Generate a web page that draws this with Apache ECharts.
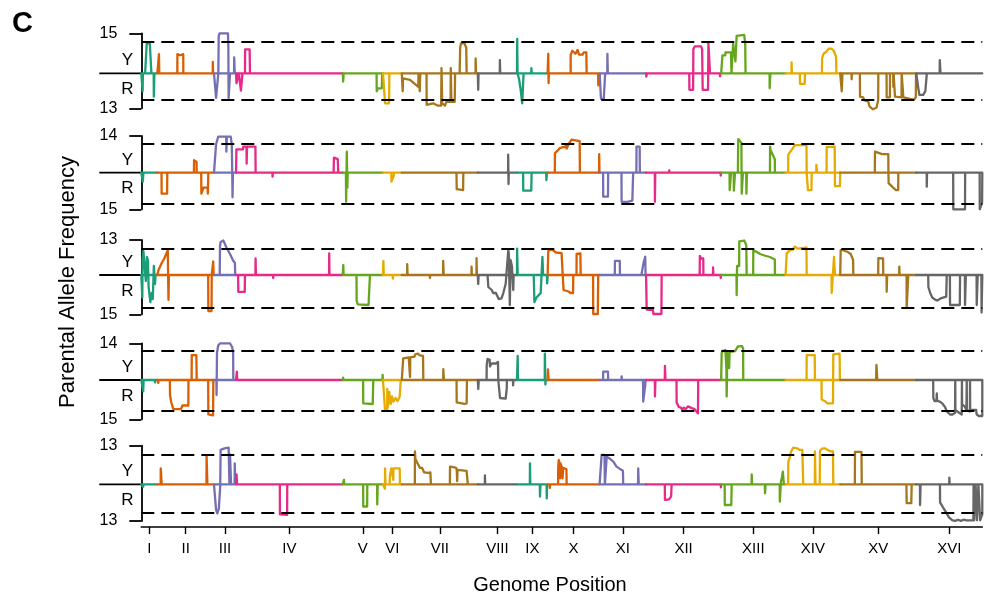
<!DOCTYPE html>
<html><head><meta charset="utf-8">
<script src="https://cdn.jsdelivr.net/npm/echarts@6/dist/echarts.min.js"></script>
<style>html,body{margin:0;padding:0;background:#fff}#c{width:989px;height:601px}</style>
</head><body><div id="c"></div>
<script>
// ---------- data ----------
const CHROMS = ['I','II','III','IV','V','VI','VII','VIII','IX','X','XI','XII','XIII','XIV','XV','XVI'];
const CHROM_LEN_KB = [230.2, 813.2, 316.6, 1531.9, 576.9, 270.2, 1090.9, 562.6, 439.9, 745.8, 666.8, 1078.2, 924.4, 784.3, 1091.3, 948.1];
const COLORS = ['#1B9E77','#D95F02','#7570B3','#E7298A','#66A61E','#E6AB02','#A6761D','#666666'];
const PANEL_TOP_LABELS = ['15','14','13','14','13'];
const PANEL_BOTTOM_LABELS = ['13','15','15','15','13'];
const Y_MAX = [1.333, 1.223, 1.167, 1.223, 1.287];
const Y_MIN = [-1.167, -1.22, -1.31, -1.31, -1.223];
const DASH_HI = [1.053, 0.947, 0.89, 0.967, 1.0];
const DASH_LO = [-0.89, -1.053, -1.09, -1.033, -0.947];
const Y_LABEL_POS = [0.42, -0.53];

// points per chromosome: flat [kb within chromosome, value, ...]
const panel1 = [
 [18,0, 19,-0.6, 22,-0.6, 23,0, 55,0, 78,1.0, 122,1.0, 145,0, 178,0, 180,-0.78, 186,-0.78, 188,0],
 [22,0, 23,0.64, 27,0.64, 28,0, 287,0, 288,0.64, 300,0.64, 305,0.58, 330,0.6, 372,0.64, 373,0, 795,0, 796,0.38, 800,0.38, 801,0],
 [25,0, 30,-0.82, 55,-0.82, 62,0, 68,1.25, 80,1.33, 200,1.33, 206,0.9, 210,-0.83, 226,-0.83, 230,0, 288,0, 290,0.53, 296,0.53, 298,0],
 [5,0, 6,-0.33, 30,-0.33, 40,0, 68,0, 70,-0.58, 88,-0.58, 92,0, 128,0, 130,0.8, 195,0.8, 200,0],
 [4,0, 5,-0.28, 12,-0.28, 13,0, 485,0, 487,-0.6, 500,-0.6, 502,-0.5, 560,-0.5, 565,0],
 [28,0, 30,-1.0, 88,-1.0, 92,0],
 [12,0, 13,-0.6, 16,-0.6, 17,-0.17, 118,-0.22, 237,-0.45, 240,0, 255,0, 258,-0.6, 263,-0.6, 265,0, 355,0, 357,-1.05, 450,-1.0, 520,-1.08, 565,-1.08, 570,0.17, 575,0.17, 580,-1.0, 620,-1.08, 640,-0.95, 700,-0.95, 703,0.17, 710,0.17, 712,-0.95, 760,-0.95, 765,0, 830,0, 838,0.85, 850,1.0, 900,1.0, 925,0.85, 931,0, 1058,0, 1060,0.5, 1064,0.5, 1066,0],
 [5,0, 6,-0.55, 10,-0.55, 11,0, 316,0, 317,0.44, 321,0.44, 322,0],
 [2,0, 3,1.15, 6,1.15, 8,0, 30,-0.2, 50,-0.5, 75,-1.0, 85,-0.5, 95,0, 205,0, 206,0.17, 210,0.17, 212,0],
 [8,0, 9,0.65, 12,0.65, 14,-0.33, 18,0, 330,0, 331,0.62, 350,0.62, 355,0.75, 380,0.72, 400,0.65, 430,0.78, 450,0.62, 500,0.62, 520,0.7, 555,0.7, 560,0, 725,0, 727,-0.4, 740,-0.4, 745,0],
 [18,0, 20,-0.85, 60,-0.85, 75,-0.9, 80,0, 110,0, 112,0.65, 116,0.65, 118,0],
 [3,0, 4,-0.11, 10,-0.11, 12,0, 620,0, 622,-0.55, 675,-0.55, 679,0.8, 700,0.9, 790,0.9, 805,0.8, 813,-0.55, 890,-0.55, 895,1.0, 915,1.0, 918,0, 1060,0, 1062,-0.1, 1066,0],
 [15,0, 18,0.6, 60,0.6, 62,0.7, 140,0.7, 148,0, 170,0, 172,1.0, 200,1.0, 205,0.4, 215,0.4, 222,1.25, 240,1.28, 330,1.28, 345,1.0, 350,0, 695,0, 696,-0.5, 705,-0.5, 706,0],
 [85,0, 86,0.36, 90,0.36, 91,0, 205,0, 207,-0.35, 275,-0.35, 279,0, 522,0, 524,0.5, 540,0.5, 545,0.65, 560,0.6, 575,0.7, 590,0.75, 620,0.82, 660,0.82, 690,0.75, 725,0.55, 730,0],
 [20,0, 22,-0.6, 30,-0.6, 32,0, 163,0, 164,-0.2, 167,0, 282,0, 284,-0.78, 330,-0.8, 345,-0.9, 403,-0.95, 420,-1.1, 470,-1.2, 520,-1.15, 545,-0.9, 547,0, 665,0, 667,-0.8, 713,-0.8, 715,0, 760,0, 762,-0.45, 766,0, 784,0, 786,-0.78, 880,-0.8, 882,0, 904,0, 906,-0.8, 1000,-0.85, 1060,-0.88, 1085,-0.8, 1088,0],
 [28,0, 30,-0.5, 45,-0.72, 100,-0.72, 130,-0.6, 150,-0.6, 152,0, 336,0, 338,0.44, 346,0.44, 348,0]
];
const panel2 = [
 [20,0, 22,-0.3, 28,-0.3, 30,0],
 [60,0, 62,-0.7, 140,-0.7, 143,0, 525,0, 527,0.42, 545,0.42, 548,0.36, 563,0.36, 565,0, 630,0, 632,-0.7, 660,-0.7, 662,-0.5, 720,-0.5, 725,-0.7, 730,-0.7, 732,0],
 [25,0, 30,0.95, 60,1.2, 175,1.2, 178,0.7, 182,0.7, 185,1.2, 240,1.2, 255,0.95, 262,0, 266,-0.82, 270,-0.82, 272,0],
 [3,0, 5,0.78, 100,0.78, 103,0.87, 150,0.87, 152,0.3, 158,0.87, 278,0.87, 281,0, 522,0, 524,-0.13, 528,0, 1400,0, 1405,0.5, 1460,0.45, 1467,0],
 [45,0, 48,-0.97, 55,-0.97, 58,0.7, 64,0.7, 66,-0.5, 70,0],
 [120,0, 122,-0.3, 150,-0.3, 155,-0.1, 158,0],
 [785,0, 788,-0.55, 880,-0.58, 883,0],
 [435,0, 436,0.6, 440,0.6, 441,-0.38, 444,-0.38, 445,0],
 [88,0, 90,-0.6, 205,-0.6, 210,0, 420,0, 422,-0.25, 428,-0.2, 430,0],
 [103,0, 105,0.65, 120,0.7, 150,0.75, 176,0.82, 200,0.78, 220,0.85, 250,0.85, 265,0.95, 272,0.8, 300,0.95, 320,1.0, 344,1.1, 370,1.05, 460,1.05, 463,0, 738,0, 740,0.62, 744,0],
 [50,0, 52,-0.8, 120,-0.8, 123,0, 314,0, 316,-0.97, 400,-0.97, 420,-0.93, 470,-0.93, 482,0, 528,0, 530,0.87, 575,0.87, 578,0],
 [126,0, 127,-0.97, 131,-0.97, 132,0, 332,0, 333,0.08, 336,0, 1070,0, 1072,-0.1, 1076,0],
 [120,0, 122,-0.58, 140,-0.58, 142,0, 180,0, 182,-0.6, 196,-0.6, 198,0, 240,0, 245,1.12, 260,1.12, 290,1.0, 295,-0.7, 310,-0.7, 312,0, 360,0, 362,-0.7, 368,-0.7, 370,0, 700,0, 702,0.87, 710,0.75, 770,0.45, 772,0],
 [37,0, 39,0.6, 60,0.65, 100,0.8, 135,0.92, 300,0.92, 303,0, 319,0, 321,-0.58, 372,-0.58, 375,0, 440,0, 442,0.26, 450,0.26, 452,0, 588,0, 590,0.85, 705,0.87, 709,-0.45, 780,-0.45, 784,-0.15],
 [497,0, 499,0.7, 520,0.65, 600,0.62, 690,0.62, 692,0, 695,-0.35, 760,-0.5, 800,-0.58, 832,-0.58, 834,0],
 [150,0, 151,-0.47, 154,-0.47, 155,0, 530,0, 532,-1.22, 700,-1.22, 702,0, 910,0, 912,-1.22, 940,-1.22, 945,-1.0]
];
const panel3 = [
 [10,0, 15,-0.75, 18,0.5, 30,0.8, 45,0.75, 55,0.8, 65,-0.2, 80,0.6, 95,0.5, 105,-0.4, 130,-0.9, 150,-0.6, 165,-0.8, 180,0.3, 197,-0.3, 205,0],
 [10,0, 14,0.15, 63,0.4, 100,0.55, 150,0.83, 158,0.83, 160,-0.83, 164,-0.83, 166,0, 730,0, 732,-1.2, 778,-1.2, 781,0, 800,0, 802,0.45, 806,0.45, 808,0],
 [82,0, 86,0.95, 95,1.1, 134,1.15, 150,1.1, 182,0.9, 230,0.7, 270,0.5, 300,0.4, 305,0],
 [30,0, 32,-0.56, 125,-0.56, 128,0, 278,0, 280,0.55, 284,0.55, 286,0, 532,0, 533,-0.1, 537,0, 1335,0, 1337,0.72, 1341,0],
 [5,0, 7,0.33, 10,0.33, 12,0, 197,0, 199,-0.85, 215,-0.98, 370,-1.0, 388,-0.95, 390,0],
 [5,0, 6,0.47, 10,0.47, 11,0, 140,0, 142,-0.12, 146,0],
 [77,0, 78,0.36, 82,0.36, 83,0, 403,0, 404,-0.1, 408,0, 593,0, 594,0.47, 600,0.47, 601,0, 1000,0, 1001,0.28, 1005,0.28, 1006,0, 1072,0, 1073,0.56, 1077,0.56, 1078,0],
 [5,0, 6,-0.3, 10,-0.3, 12,0, 140,0, 151,-0.4, 200,-0.5, 220,-0.6, 260,-0.6, 300,-0.8, 340,-0.78, 366,-0.6, 400,-0.3, 420,0.3, 438,0.83, 445,0.7, 460,-1.0, 470,0.5, 490,0.3, 509,-0.5, 515,0],
 [1,0, 2,0.88, 8,0.85, 10,0, 240,0, 250,-0.9, 260,-0.85, 280,-0.75, 340,-0.6, 360,-0.55, 365,0.6, 372,0.6, 375,0, 430,0, 432,-0.28, 436,-0.2, 440,0],
 [8,0, 10,0.8, 40,0.85, 80,0.82, 120,0.75, 200,0.73, 225,0.7, 228,-0.5, 300,-0.55, 330,-0.6, 340,-0.55, 365,-0.6, 368,0, 414,0, 416,0.7, 470,0.72, 474,0, 652,0, 654,-1.3, 720,-1.3, 726,0],
 [218,0, 220,0.47, 290,0.47, 292,0, 600,0, 630,0.4, 655,0.61, 660,0],
 [7,0, 9,-1.15, 100,-1.17, 105,-1.3, 220,-1.3, 224,0, 770,0, 772,0.64, 790,0.55, 800,0.6, 821,0.55, 823,0, 960,0, 962,0.25, 966,0, 1070,0, 1072,-0.1, 1076,0],
 [220,0, 222,-0.67, 226,-0.67, 228,0.3, 258,0.3, 260,1.12, 280,1.16, 330,1.15, 360,1.0, 366,0, 459,0, 461,0.82, 500,0.78, 560,0.7, 620,0.65, 700,0.6, 770,0.52, 772,0],
 [14,0, 16,0.72, 40,0.75, 60,0.82, 100,0.85, 135,0.95, 170,0.88, 250,0.9, 300,0.92, 303,0, 660,0, 662,-0.6, 690,-0.6, 695,0.6, 705,0.6, 709,0],
 [5,0, 7,0.83, 40,0.83, 69,0.8, 100,0.78, 150,0.7, 185,0.5, 188,0, 545,0, 547,0.56, 575,0.6, 615,0.55, 618,0, 665,0, 667,-0.56, 672,-0.56, 674,0, 846,0, 848,0.28, 852,0, 952,0, 954,-1.1, 975,-1.1, 977,0],
 [172,0, 174,-0.4, 200,-0.6, 230,-0.75, 270,-0.82, 300,-0.85, 350,-0.78, 430,-0.72, 438,0, 483,0, 485,-1.0, 625,-1.0, 629,0, 698,0, 700,-1.0, 710,-1.0, 712,0, 866,0, 868,-1.0, 880,-1.0, 882,0, 935,0, 938,-1.25, 945,-1.3, 948,-1.2]
];
const panel4 = [
 [25,0, 27,-0.38, 32,-0.38, 34,0, 195,0, 197,-0.08, 200,0],
 [12,0, 14,-0.1, 18,0, 180,0, 182,-0.5, 200,-0.75, 220,-0.8, 230,-0.97, 280,-0.97, 290,-1.0, 340,-0.97, 350,-0.95, 360,-0.85, 445,-0.85, 447,0, 492,0, 494,0.83, 560,0.83, 565,0, 730,0, 732,-1.15, 800,-1.18, 804,0],
 [35,0, 37,-0.5, 41,-0.5, 43,0.9, 60,1.15, 86,1.22, 230,1.22, 260,1.1, 275,0.9, 277,0],
 [10,0, 11,0.28, 16,0.28, 17,0],
 [3,0, 5,0.08, 10,0, 292,0, 294,-0.78, 430,-0.8, 438,0, 570,0, 572,0.17, 576,0],
 [27,0, 29,-1.0, 60,-1.0, 62,-0.3, 70,-0.9, 90,-0.4, 110,-0.8, 130,-0.55, 150,-0.72, 180,-0.6, 210,-0.7, 240,-0.55, 250,-0.6, 255,0],
 [15,0, 20,0.72, 100,0.75, 116,0.72, 118,0.1, 122,0.75, 185,0.78, 190,0.85, 230,0.88, 260,0.82, 305,0.8, 309,0, 594,0, 596,0.36, 602,0.36, 604,0, 786,0, 788,-0.75, 900,-0.8, 931,-0.78, 935,0],
 [5,0, 7,-0.3, 12,-0.3, 14,0, 126,0, 128,0.5, 140,0.7, 170,0.68, 175,0.45, 200,0.55, 260,0.55, 290,0.6, 294,0, 317,0, 319,-0.6, 400,-0.62, 415,-0.3, 418,0, 505,0, 507,-0.18, 512,0],
 [9,0, 10,0.8, 13,0.8, 14,0, 398,0, 400,0.88, 406,0.88, 408,-0.15, 412,0],
 [3,0, 4,0.35, 12,0.35, 14,0],
 [50,0, 52,0.28, 120,0.28, 123,0, 314,0, 316,0.12, 320,0, 624,0, 626,-0.72, 640,-0.72, 648,-0.3, 655,-0.2, 660,0],
 [126,0, 128,-0.55, 133,-0.55, 135,0, 269,0, 271,0.47, 276,0.47, 278,0, 437,0, 439,-0.75, 460,-0.78, 470,-0.9, 500,-0.92, 520,-1.0, 540,-0.92, 570,-0.97, 600,-0.88, 640,-0.92, 700,-0.98, 745,-1.11, 749,0],
 [5,0, 7,0.9, 30,0.98, 60,1.0, 75,0.4, 79,-0.55, 85,-0.55, 88,0.9, 110,0.9, 115,0.4, 120,0.92, 150,0.95, 200,0.96, 240,1.12, 300,1.13, 315,1.05, 317,0],
 [301,0, 303,0.83, 418,0.83, 422,0, 516,0, 518,-0.65, 560,-0.7, 600,-0.78, 680,-0.78, 685,0.85, 700,0.88, 775,0.88, 780,0],
 [515,0, 520,0.5, 525,0.56, 530,0.5, 533,0],
 [243,0, 245,-0.6, 260,-0.7, 290,-0.7, 295,-0.45, 300,-0.7, 340,-0.72, 380,-0.8, 413,-0.9, 440,-1.05, 485,-1.15, 500,-1.2, 520,-1.15, 540,-1.2, 557,-1.1, 560,0, 562,-1.0, 620,-1.1, 653,-1.15, 656,0, 658,-0.8, 700,-0.9, 720,-1.0, 725,0, 727,-1.0, 770,-1.05, 772,0, 774,-1.0, 860,-1.0, 868,-1.15, 900,-1.2, 948,-1.2]
];
const panel5 = [
 [25,0, 27,-0.08, 32,0],
 [48,0, 49,0.53, 60,0.53, 62,0, 705,0, 707,0.95, 716,0.95, 718,0],
 [10,0, 14,-0.4, 30,-0.85, 48,-0.97, 70,-0.8, 86,-0.2, 90,0, 95,1.15, 110,1.18, 150,1.2, 210,1.22, 220,1.28, 222,0, 228,0, 230,1.0, 240,1.0, 245,0, 296,0, 298,0.7, 302,0.7, 304,0],
 [5,0, 7,0.33, 12,0.33, 14,0, 628,0, 630,-1.0, 733,-1.02, 735,0],
 [15,0, 17,0.15, 21,0, 292,0, 294,-0.74, 350,-0.74, 352,0, 493,0, 495,-0.67, 499,-0.67, 501,0],
 [27,0, 28,-0.15, 30,0.53, 34,0.53, 36,0, 95,0, 100,0.3, 120,0.53, 140,0.53, 148,0.15, 150,0.53, 240,0.53, 244,0],
 [187,0, 189,1.1, 195,0.85, 215,0.75, 230,0.7, 260,0.55, 290,0.55, 320,0.4, 345,0.45, 375,0.38, 410,0.4, 418,0, 690,0, 692,0.59, 740,0.57, 780,0.55, 788,0.48, 795,0.1, 800,0.48, 930,0.45, 948,0],
 [101,0, 102,0.3, 106,0.3, 107,0],
 [185,0, 186,0.7, 190,0.7, 191,0, 328,0, 330,-0.41, 335,-0.41, 337,0, 425,0, 427,-0.47, 432,-0.47, 434,0],
 [30,0, 32,-0.12, 36,0, 150,0, 152,0.6, 160,0.81, 175,0.7, 180,0.2, 185,0.7, 200,0.6, 210,0.55, 215,0.2, 222,0.55, 270,0.5, 273,0],
 [27,0, 29,0.98, 70,0.98, 76,0, 100,0, 102,0.92, 120,0.9, 150,0.85, 200,0.75, 240,0.6, 300,0.5, 335,0.45, 339,0, 552,0, 554,0.53, 560,0.53, 562,0],
 [269,0, 271,-0.52, 330,-0.5, 360,-0.4, 367,0, 1070,0, 1075,-0.1, 1077,0],
 [50,0, 52,-0.69, 145,-0.69, 151,0, 436,0, 438,0.33, 442,0.33, 444,0, 627,0, 629,-0.3, 635,-0.3, 637,0, 840,0, 842,-0.58, 855,-0.58, 858,0.1, 870,0.2, 885,0.42, 895,0.42, 900,0],
 [37,0, 39,0.75, 60,0.9, 80,1.1, 110,1.22, 135,1.25, 170,1.2, 200,1.15, 240,1.15, 254,0, 420,0, 422,1.1, 428,1.1, 430,0, 490,0, 494,1.12, 530,1.2, 570,1.2, 600,1.15, 640,1.1, 680,1.1, 685,0],
 [210,0, 212,1.08, 305,1.08, 309,0, 950,0, 954,-0.63, 1020,-0.63, 1026,0],
 [53,0, 55,-0.69, 60,-0.69, 62,0, 474,0, 475,0.22, 479,0.22, 480,0, 340,0, 342,-0.6, 380,-0.75, 420,-0.9, 470,-1.1, 520,-1.2, 560,-1.22, 600,-1.18, 640,-1.22, 680,-1.18, 720,-1.2, 780,-1.2, 820,-1.2, 823,0, 830,0, 832,-1.2, 850,-1.2, 852,0, 870,0, 872,-1.2, 890,-1.2, 892,0, 915,0, 917,-1.2, 940,-1.22, 948,-1.0]
];
const PANELS = [panel1, panel2, panel3, panel4, panel5];

// ---------- layout ----------
const FONT = '"Liberation Sans", Arial, Helvetica, sans-serif';
const GRID_LEFT = 141.3, GRID_RIGHT = 6.7, PX_PER_UNIT = 30;
const GRID_TOPS = [33.3, 136, 240, 343.3, 445.7];

const starts = []; let acc = 0;
CHROM_LEN_KB.forEach(l => { starts.push(acc); acc += l; });
const GENOME = acc;
const centers = starts.map((s, i) => s + CHROM_LEN_KB[i] / 2);

const chart = echarts.init(document.getElementById('c'), null, {renderer: 'canvas'});
const grids = [], xAxes = [], yAxes = [], series = [];
for (let p = 0; p < 5; p++) {
  grids.push({left: GRID_LEFT, right: GRID_RIGHT, top: GRID_TOPS[p], height: (Y_MAX[p] - Y_MIN[p]) * PX_PER_UNIT, containLabel: false});
  const last = p === 4;
  xAxes.push({
    type: 'value', gridIndex: p, min: 0, max: GENOME, show: last,
    position: 'bottom', offset: 6,
    axisLine: {show: last, onZero: false, lineStyle: {color: '#000', width: 1.6}},
    axisTick: {show: last, length: 7, customValues: centers, lineStyle: {color: '#000', width: 1.4}},
    axisLabel: {show: last, customValues: centers, margin: 14, color: '#000', fontSize: 15, fontFamily: FONT,
      formatter: v => { let b = 0, d = 1e12; centers.forEach((c, i) => { if (Math.abs(c - v) < d) { d = Math.abs(c - v); b = i; } }); return CHROMS[b]; }},
    splitLine: {show: false}
  });
  yAxes.push({
    type: 'value', gridIndex: p, min: Y_MIN[p], max: Y_MAX[p],
    splitLine: {show: false},
    axisLine: {show: true, onZero: false, lineStyle: {color: '#000', width: 1.8}},
    axisTick: {show: true, length: 12, customValues: [Y_MIN[p], Y_MAX[p]], lineStyle: {color: '#000', width: 1.8}},
    axisLabel: {show: true, customValues: [Y_MIN[p], Y_MAX[p]], showMinLabel: true, showMaxLabel: true, margin: 24,
      color: '#000', fontSize: 16, fontFamily: FONT,
      formatter: v => v > 0 ? PANEL_TOP_LABELS[p] : PANEL_BOTTOM_LABELS[p]}
  });
  PANELS[p].forEach((pts, c) => {
    const s = starts[c], L = CHROM_LEN_KB[c];
    const data = [[s + L, 0], [s, 0]];
    for (let k = 0; k < pts.length; k += 2) data.push([s + pts[k], pts[k + 1]]);
    data.push([s + L, 0]);
    const col = COLORS[c % 8];
    series.push({type: 'line', xAxisIndex: p, yAxisIndex: p, data, symbol: 'none', showSymbol: false,
      lineStyle: {color: col, width: 2.3, join: 'round', cap: 'round'}, itemStyle: {color: col},
      silent: true, animation: false, clip: false, z: 3});
  });
  series.push({type: 'line', xAxisIndex: p, yAxisIndex: p, data: [[0, 0], [GENOME, 0]], symbol: 'none',
    lineStyle: {opacity: 0}, silent: true, animation: false, z: 4,
    markLine: {silent: true, symbol: ['none', 'none'], animation: false, label: {show: false},
      lineStyle: {color: '#000', type: [13, 7], width: 2.2, opacity: 1},
      data: [{yAxis: DASH_HI[p]}, {yAxis: DASH_LO[p]}]}});
}

chart.setOption({
  animation: false,
  backgroundColor: '#fff',
  textStyle: {fontFamily: FONT},
  grid: grids, xAxis: xAxes, yAxis: yAxes, series
});

const gfx = [
  {type: 'text', left: 12, top: 9, style: {text: 'C', font: 'bold 29px ' + FONT, fill: '#000'}},
  {type: 'text', x: 68, y: 282, rotation: Math.PI / 2,
    style: {text: 'Parental Allele Frequency', font: '22px ' + FONT, fill: '#000', textAlign: 'center', textVerticalAlign: 'middle'}},
  {type: 'text', x: 550, y: 585,
    style: {text: 'Genome Position', font: '20px ' + FONT, fill: '#000', textAlign: 'center', textVerticalAlign: 'middle'}}
];
for (let p = 0; p < 5; p++) {
  const base = chart.convertToPixel({gridIndex: p}, [0, 0])[1];
  const yy = chart.convertToPixel({gridIndex: p}, [0, Y_LABEL_POS[0]])[1];
  const ry = chart.convertToPixel({gridIndex: p}, [0, Y_LABEL_POS[1]])[1];
  gfx.push({type: 'line', shape: {x1: 99.3, y1: base, x2: GRID_LEFT, y2: base}, style: {stroke: '#000', lineWidth: 1.8}, silent: true});
  gfx.push({type: 'text', x: 127.5, y: yy, style: {text: 'Y', font: '17px ' + FONT, fill: '#000', textAlign: 'center', textVerticalAlign: 'middle'}});
  gfx.push({type: 'text', x: 127.5, y: ry, style: {text: 'R', font: '17px ' + FONT, fill: '#000', textAlign: 'center', textVerticalAlign: 'middle'}});
}
chart.setOption({graphic: gfx});
</script>
</body></html>
